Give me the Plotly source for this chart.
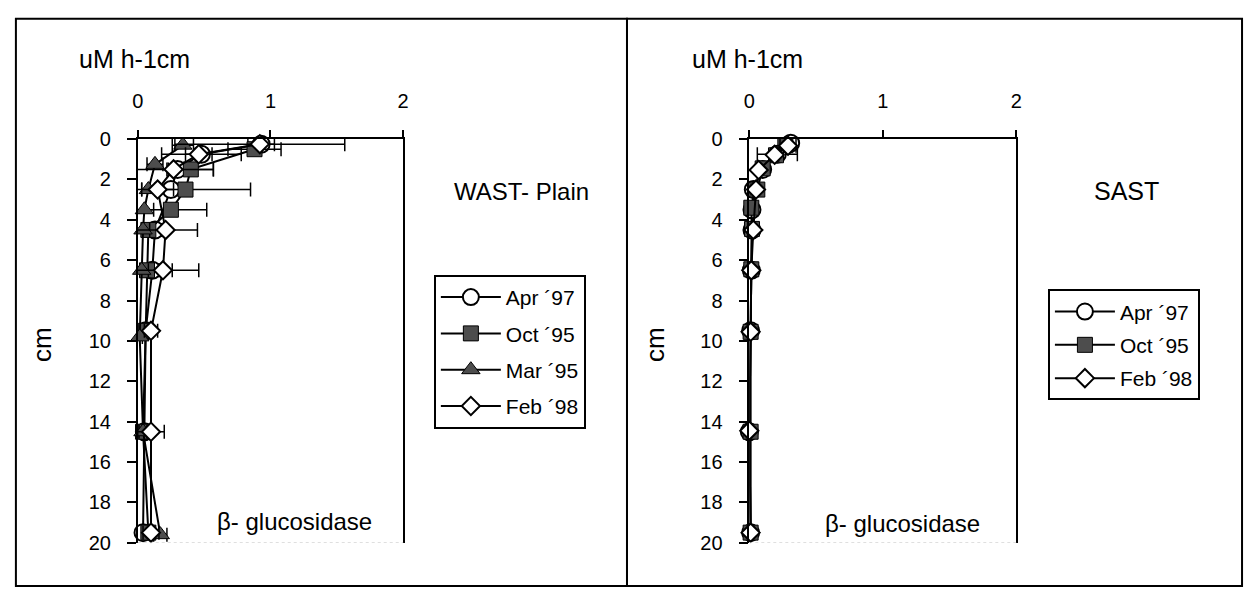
import plotly.graph_objects as go

W, H = 1252, 599
FONT = "Liberation Sans, Arial, Helvetica, sans-serif"

# ---------------- data: WAST-Plain (left panel) ----------------
L_apr97_depth = [0.25, 0.75, 1.5, 2.5, 4.5, 6.5, 9.5, 14.5, 19.5]
L_apr97_val   = [0.93, 0.48, 0.30, 0.25, 0.13, 0.11, 0.06, 0.05, 0.04]
L_apr97_err   = [0.10, 0.30, 0.08, 0.08, 0.05, 0.05, 0.03, 0.03, 0.03]

L_oct95_depth = [0.5, 1.5, 2.5, 3.5, 4.5, 6.5, 9.5, 14.5, 19.5]
L_oct95_val   = [0.88, 0.40, 0.36, 0.25, 0.08, 0.07, 0.06, 0.04, 0.08]
L_oct95_err   = [0.20, 0.17, 0.49, 0.27, 0.10, 0.19, 0.05, 0.03, 0.05]

L_mar95_depth = [0.3, 1.25, 2.5, 3.5, 4.5, 6.5, 9.8, 14.5, 19.6]
L_mar95_val   = [0.34, 0.13, 0.08, 0.05, 0.04, 0.03, 0.015, 0.04, 0.17]
L_mar95_err   = [0.08, 0.06, 0.05, 0.07, 0.05, 0.05, 0.02, 0.03, 0.05]

L_feb98_depth = [0.25, 0.75, 1.5, 2.5, 4.5, 6.5, 9.5, 14.5, 19.5]
L_feb98_val   = [0.92, 0.46, 0.27, 0.15, 0.21, 0.19, 0.10, 0.10, 0.10]
L_feb98_err   = [0.64, 0.10, 0.30, 0.12, 0.24, 0.27, 0.05, 0.10, 0.06]

# ---------------- data: SAST (right panel) ----------------
R_apr97_depth = [0.2, 0.75, 1.5, 2.5, 3.5, 4.5, 6.5, 9.5, 14.5, 19.5]
R_apr97_val   = [0.31, 0.21, 0.10, 0.03, 0.02, 0.02, 0.015, 0.01, 0.00, 0.01]
R_apr97_err   = [0.05, 0.15, 0.03, 0.02, 0.01, 0.01, 0.01, 0.01, 0.01, 0.01]

R_oct95_depth = [0.3, 0.8, 1.45, 2.5, 3.4, 4.45, 6.45, 9.55, 14.5, 19.5]
R_oct95_val   = [0.27, 0.20, 0.10, 0.06, 0.015, 0.02, 0.015, 0.01, 0.01, 0.01]
R_oct95_err   = [0.04, 0.04, 0.03, 0.02, 0.01, 0.01, 0.01, 0.01, 0.01, 0.01]

R_feb98_depth = [0.33, 0.78, 1.53, 2.5, 4.5, 6.5, 9.55, 14.45, 19.5]
R_feb98_val   = [0.29, 0.19, 0.07, 0.05, 0.03, 0.015, 0.01, 0.00, 0.01]
R_feb98_err   = [0.06, 0.03, 0.02, 0.02, 0.01, 0.01, 0.01, 0.01, 0.01]

x_ticks = [0, 1, 2]
y_ticks = list(range(0, 21, 2))

# ---------------- styles ----------------
SQ_FILL = "#4d4d4d"
styles = {
    "apr": dict(symbol="circle", size=17, color="white", line=dict(color="black", width=2)),
    "oct": dict(symbol="square", size=15, color=SQ_FILL, line=dict(color="black", width=1)),
    "mar": dict(symbol="triangle-up", size=16, color=SQ_FILL, line=dict(color="black", width=1)),
    "feb": dict(symbol="diamond", size=14, color="white", line=dict(color="black", width=2)),
}


def px_x(p):
    return p / W


def px_y(p):
    return 1 - p / H


fig = go.Figure()


def add_series(name, key, depth, val, err, xa, ya, legend, group):
    fig.add_trace(go.Scatter(
        x=val, y=depth, name=name, mode="lines+markers",
        xaxis=xa, yaxis=ya, legend=legend, legendgroup=group,
        line=dict(color="black", width=2),
        marker=styles[key],
        error_x=dict(type="data", array=err, symmetric=True,
                     color="black", thickness=1.5, width=7),
        cliponaxis=False,
    ))


add_series("Apr \u00b497", "apr", L_apr97_depth, L_apr97_val, L_apr97_err, "x", "y", "legend", "a1")
add_series("Oct \u00b495", "oct", L_oct95_depth, L_oct95_val, L_oct95_err, "x", "y", "legend", "a2")
add_series("Mar \u00b495", "mar", L_mar95_depth, L_mar95_val, L_mar95_err, "x", "y", "legend", "a3")
add_series("Feb \u00b498", "feb", L_feb98_depth, L_feb98_val, L_feb98_err, "x", "y", "legend", "a4")

add_series("Apr \u00b497", "apr", R_apr97_depth, R_apr97_val, R_apr97_err, "x2", "y2", "legend2", "b1")
add_series("Oct \u00b495", "oct", R_oct95_depth, R_oct95_val, R_oct95_err, "x2", "y2", "legend2", "b2")
add_series("Feb \u00b498", "feb", R_feb98_depth, R_feb98_val, R_feb98_err, "x2", "y2", "legend2", "b3")

y_dom = [px_y(552), px_y(133)]


def xaxis(dom, anchor):
    return dict(domain=dom, range=[0, 2], side="top", anchor=anchor,
                tickvals=x_ticks, ticktext=[str(v) for v in x_ticks],
                ticks="outside", ticklen=7, tickwidth=1.5, tickcolor="black",
                showline=True, linecolor="black", linewidth=1.5,
                showgrid=False, zeroline=False, ticklabelstandoff=14,
                tickfont=dict(size=20, color="black", family=FONT))


def yaxis(anchor):
    return dict(domain=y_dom, range=[20, 0], anchor=anchor,
                tickvals=y_ticks, ticktext=[str(v) for v in y_ticks],
                ticks="outside", ticklen=9, tickwidth=1.5, tickcolor="black",
                showline=True, linecolor="black", linewidth=1.5, mirror=True,
                showgrid=False, zeroline=False, ticklabelstandoff=12,
                tickfont=dict(size=20, color="black", family=FONT))


shapes = [
    dict(type="rect", xref="paper", yref="paper",
         x0=px_x(10), x1=px_x(627), y0=px_y(597), y1=px_y(8),
         line=dict(color="black", width=2)),
    dict(type="rect", xref="paper", yref="paper",
         x0=px_x(627), x1=px_x(1248), y0=px_y(597), y1=px_y(8),
         line=dict(color="black", width=2)),
    dict(type="line", xref="x domain", yref="y", x0=0, x1=1, y0=20, y1=20,
         line=dict(color="#c8c8c8", width=1, dash="dot")),
    dict(type="line", xref="x2 domain", yref="y2", x0=0, x1=1, y0=20, y1=20,
         line=dict(color="#c8c8c8", width=1, dash="dot")),
]


def ann(text, x, y, size, angle=0):
    return dict(text=text, xref="paper", yref="paper", x=px_x(x), y=px_y(y),
                xanchor="center", yanchor="middle", showarrow=False,
                textangle=angle, font=dict(size=size, color="black", family=FONT))


annotations = [
    ann("uM h-1cm", 130, 50, 25),
    ann("uM h-1cm", 749, 50, 25),
    ann("cm", 37, 346, 26, -90),
    ann("cm", 656, 346, 26, -90),
    ann("WAST- Plain", 520, 187, 24),
    ann("SAST", 1131, 187, 25),
    ann("\u03b2- glucosidase", 291, 530, 24),
    ann("\u03b2- glucosidase", 905, 532, 24),
]

fig.update_layout(
    width=W, height=H,
    margin=dict(l=0, r=0, t=0, b=0),
    paper_bgcolor="white", plot_bgcolor="white",
    font=dict(family=FONT, color="black"),
    xaxis=xaxis([px_x(133), px_x(401)], "y"),
    yaxis=yaxis("x"),
    xaxis2=xaxis([px_x(750.5), px_x(1020)], "y2"),
    yaxis2=yaxis("x2"),
    shapes=shapes,
    annotations=annotations,
    legend=dict(x=px_x(432), y=px_y(274), xanchor="left", yanchor="top",
                bordercolor="black", borderwidth=2, bgcolor="white",
                font=dict(size=21, family=FONT, color="black"),
                tracegroupgap=6, itemwidth=60),
    legend2=dict(x=px_x(1052), y=px_y(289), xanchor="left", yanchor="top",
                 bordercolor="black", borderwidth=2, bgcolor="white",
                 font=dict(size=21, family=FONT, color="black"),
                 tracegroupgap=3, itemwidth=60),
    showlegend=True,
)

fig.write_html("out.html")
